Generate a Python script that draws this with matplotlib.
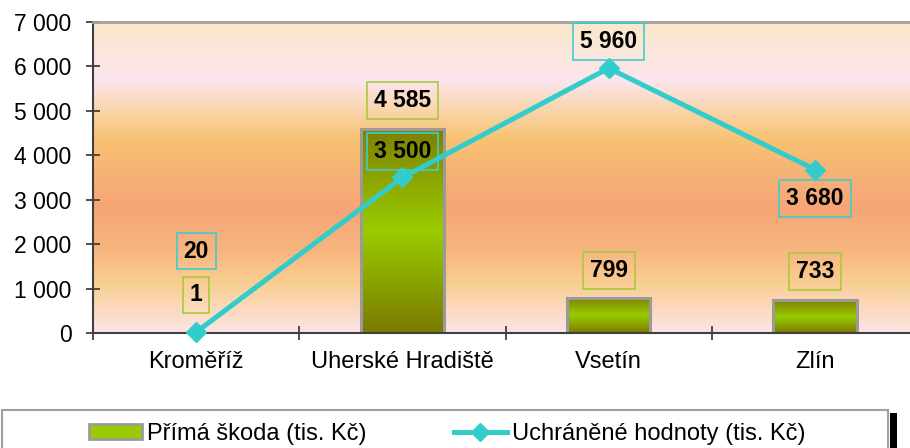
import numpy as np
import matplotlib
matplotlib.use("Agg")
import matplotlib.pyplot as plt
from matplotlib.colors import LinearSegmentedColormap
from matplotlib.patches import Rectangle, Patch
from matplotlib.lines import Line2D

plt.rcParams['font.family'] = ['Liberation Sans', 'DejaVu Sans']

# ---- data ----
categories = ["Kroměříž", "Uherské Hradiště", "Vsetín", "Zlín"]
prima_skoda = [1, 4585, 799, 733]
uchranene = [20, 3500, 5960, 3680]
series_names = ["Přímá škoda (tis. Kč)", "Uchráněné hodnoty (tis. Kč)"]
yticks = [0, 1000, 2000, 3000, 4000, 5000, 6000, 7000]

# ---- label offsets (pixels, styling only) ----
bar_label_dy = [38, 29, 27, 29]
line_label_dy = [81, 26, 27, -29]

FS = 16.5
FS_X = 17
W, H = 910, 448
fig = plt.figure(figsize=(W / 100, H / 100), dpi=100)
ax = fig.add_axes([93 / W, 115 / H, 825 / W, 311 / H])

x = np.arange(len(categories))
ax.set_xlim(-0.5, len(categories) - 0.5)
ax.set_ylim(0, 7000)

# background gradient
bg_stops = [
    (0.0, "#FDE4E6"),
    (0.16, "#F9CE92"),
    (0.27, "#F7B47E"),
    (0.40, "#F6A676"),
    (0.48, "#F6AE78"),
    (0.62, "#F8C272"),
    (0.72, "#F9D6AE"),
    (0.81, "#FCE5EE"),
    (1.0, "#FAE8C8"),
]
bg_cmap = LinearSegmentedColormap.from_list("bg", bg_stops)
grad = np.linspace(0, 1, 512).reshape(-1, 1)
ax.imshow(grad, cmap=bg_cmap, origin="lower", aspect="auto",
          extent=[-0.5, len(categories) - 0.5, 0, 7000], zorder=0)

# bars with vertical gradient
bar_cmap = LinearSegmentedColormap.from_list(
    "bar", [(0.0, "#7A7A00"), (0.5, "#99CC00"), (1.0, "#7F7F00")])
bw = 0.405
for xi, v in zip(x, prima_skoda):
    ax.imshow(grad, cmap=bar_cmap, origin="lower", aspect="auto",
              extent=[xi - bw / 2, xi + bw / 2, 0, v], zorder=2)
ax.bar(x, prima_skoda, width=bw, facecolor="none", edgecolor="#9A9A9A",
       linewidth=2.2, zorder=2.5)

# line
line_color = "#33CCCC"
ax.plot(x, uchranene, color=line_color, lw=3.6, marker="D", markersize=10,
        zorder=4, clip_on=False)

# data labels
for xi, v, dy in zip(x, prima_skoda, bar_label_dy):
    ax.annotate(f"{v:,}".replace(",", " "), (xi, v),
                xytext=(0, dy * 0.72), textcoords="offset points",
                ha="center", va="center", fontsize=FS, fontweight="bold",
                bbox=dict(boxstyle="square,pad=0.3", facecolor="none",
                          edgecolor="#A8CC3A", lw=1.2), zorder=5)
for xi, v, dy in zip(x, uchranene, line_label_dy):
    ax.annotate(f"{v:,}".replace(",", " "), (xi, v),
                xytext=(0, dy * 0.72), textcoords="offset points",
                ha="center", va="center", fontsize=FS, fontweight="bold",
                bbox=dict(boxstyle="square,pad=0.3", facecolor="none",
                          edgecolor="#40CCCC", lw=1.2), zorder=5)

# axes styling
ax.set_yticks(yticks)
ax.set_yticklabels([f"{t:,}".replace(",", " ") for t in yticks])
ax.set_xticks(np.arange(-0.5, len(categories), 1.0))
ax.set_xticklabels([])
ax.set_xticks(x, minor=True)
ax.set_xticklabels(categories, minor=True)
ax.tick_params(axis="y", direction="inout", length=10, width=1.3,
               color="#404040", labelsize=FS, pad=10.5)
ax.tick_params(axis="x", which="major", direction="inout", length=10,
               width=1.3, color="#404040")
ax.tick_params(axis="x", which="minor", length=0, labelsize=FS_X, pad=13)
for s in ("left", "bottom"):
    ax.spines[s].set_color("#404040")
    ax.spines[s].set_linewidth(1.5)
ax.spines["top"].set_color("#A0A0A0")
ax.spines["top"].set_linewidth(2)
ax.spines["right"].set_visible(False)

# legend
handles = [
    Patch(facecolor="#99CC00", edgecolor="#9A9A9A", lw=2),
    Line2D([], [], color=line_color, lw=3.6, marker="D", markersize=9),
]
fig.legend(handles, series_names, loc="center left",
           bbox_to_anchor=(89 / W, 1 - 434 / H), ncol=2, frameon=False,
           fontsize=FS_X, handlelength=2.25, handleheight=0.6,
           handletextpad=0.2, columnspacing=3.7, borderpad=0,
           borderaxespad=0)
fig.patches.append(Rectangle((2 / W, -0.05), 886 / W, (H - 410) / H + 0.05,
                             transform=fig.transFigure, fill=False,
                             edgecolor="#A0A0A0", lw=1.5))
fig.patches.append(Rectangle((890 / W, -0.05), 7 / W, (H - 413) / H + 0.05,
                             transform=fig.transFigure, facecolor="black",
                             edgecolor="none"))

fig.savefig("out.png", dpi=100)
